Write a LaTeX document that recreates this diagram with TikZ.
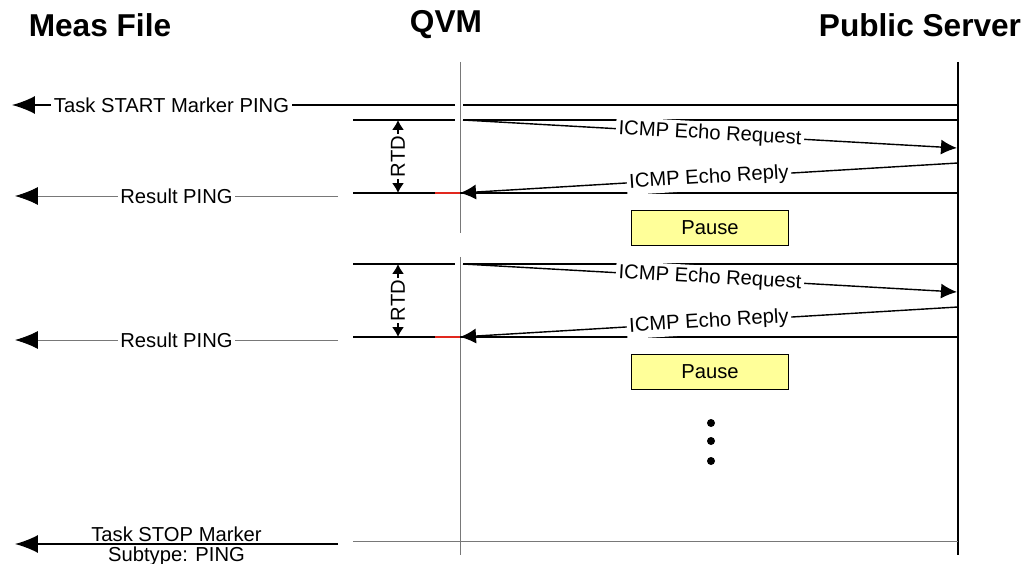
\documentclass[tikz,border=0pt]{standalone}
\usepackage{fontspec}
\setmainfont{Liberation Sans}
\usetikzlibrary{arrows.meta,positioning}
\definecolor{pauseyellow}{RGB}{255,255,153}
\definecolor{rtdred}{RGB}{225,40,30}
\definecolor{lifegray}{RGB}{120,120,120}

\begin{document}
\begin{tikzpicture}[
    x=0.02cm,y=-0.02cm,
    head/.style={font=\fontsize{18}{20}\selectfont\bfseries},
    lbl/.style={font=\fontsize{11.5}{13}\selectfont,fill=white,inner sep=1.5pt},
    pausebox/.style={draw,thick,fill=pauseyellow,minimum width=3.14cm,minimum height=0.7cm,
                     font=\fontsize{11.5}{13}\selectfont},
    line/.style={line width=0.8pt},
    life/.style={lifegray,line width=0.5pt},
    bigarrow/.style={-{Latex[length=4.6mm,width=3.6mm,color=black]}},
    msg/.style={-{Latex[length=3.2mm,width=3mm]},line width=0.8pt},
    rtd/.style={{Latex[length=2mm,width=2.4mm]}-{Latex[length=2mm,width=2.4mm]},line width=0.8pt}
]
    \useasboundingbox (0,0) rectangle (1028,564);

    % headers
    \node[head] (meas) at (100,25) {Meas File};
    \node[head] (qvm) at (446,25) {QVM};
    \node[head] (srv) at (920,25) {Public Server};

    % lifelines
    \coordinate (qvmtop) at (460,62);
    \coordinate (qvmgapa) at (460,233);
    \coordinate (qvmgapb) at (460,257);
    \coordinate (qvmbot) at (460,555);
    \coordinate (srvtop) at (958,62);
    \coordinate (srvbot) at (958,555);
    \draw[life] (qvmtop) -- (qvmgapa);
    \draw[life] (qvmgapb) -- (qvmbot);
    \draw[line width=1.2pt] (srvtop) -- (srvbot);

    % task start marker
    \coordinate (startq) at (455,105);
    \coordinate (startl) at (12,105);
    \coordinate (startr) at (463,105);
    \coordinate (starte) at (958,105);
    \draw[bigarrow,line] (startq) -- node[lbl,pos=0.64]{Task START Marker PING} (startl);
    \draw[line] (startr) -- (starte);

    % ping rounds
    \foreach \i/\dy in {1/0,2/144}{
        \coordinate (stub\i) at (353,120+\dy);
        \coordinate (stubq\i) at (455,120+\dy);
        \coordinate (reqs\i) at (463,120+\dy);
        \coordinate (reqe\i) at (958,120+\dy);
        \coordinate (reqtip\i) at (957,148+\dy);
        \coordinate (repl\i) at (958,163+\dy);
        \coordinate (res\i) at (353,193+\dy);
        \coordinate (red\i) at (435,193+\dy);
        \coordinate (resq\i) at (460,193+\dy);
        \coordinate (rese\i) at (958,193+\dy);
        \coordinate (rtdt\i) at (398,120+\dy);
        \coordinate (rtdb\i) at (398,193+\dy);
        \coordinate (resl\i) at (338,196+\dy);
        \coordinate (restip\i) at (15,196+\dy);
        \draw[line] (stub\i) -- (stubq\i);
        \draw[line] (reqs\i) -- (reqe\i);
        \draw[line] (res\i) -- (red\i);
        \draw[rtdred,line width=1pt] (red\i) -- (resq\i);
        \draw[line] (resq\i) -- (rese\i);
        \draw[rtd] (rtdt\i) -- node[lbl,rotate=90,inner sep=1pt]{RTD} (rtdb\i);
        \draw[msg] (reqs\i) -- node[lbl,sloped]{ICMP Echo Request} (reqtip\i);
        \draw[msg] (repl\i) -- node[lbl,sloped]{ICMP Echo Reply} (resq\i);
        \draw[bigarrow,life] (resl\i) -- node[lbl,text=black]{Result PING} (restip\i);
        \node[pausebox] (pause\i) at (710,228+\dy) {Pause};
    }

    % more rounds
    \foreach \y in {423,441,461}
        \fill (711,\y) circle (0.08cm);

    % task stop marker
    \coordinate (stopl) at (338,544);
    \coordinate (stoptip) at (15,544);
    \coordinate (stopq) at (353,541);
    \coordinate (stope) at (958,541);
    \draw[life] (stopq) -- (stope);
    \draw[bigarrow,line] (stopl) -- node[above,inner sep=1pt,font=\fontsize{11.5}{13}\selectfont]{Task STOP Marker}
        node[below,inner sep=1pt,font=\fontsize{11.5}{13}\selectfont]{Subtype: PING} (stoptip);
\end{tikzpicture}
\end{document}
